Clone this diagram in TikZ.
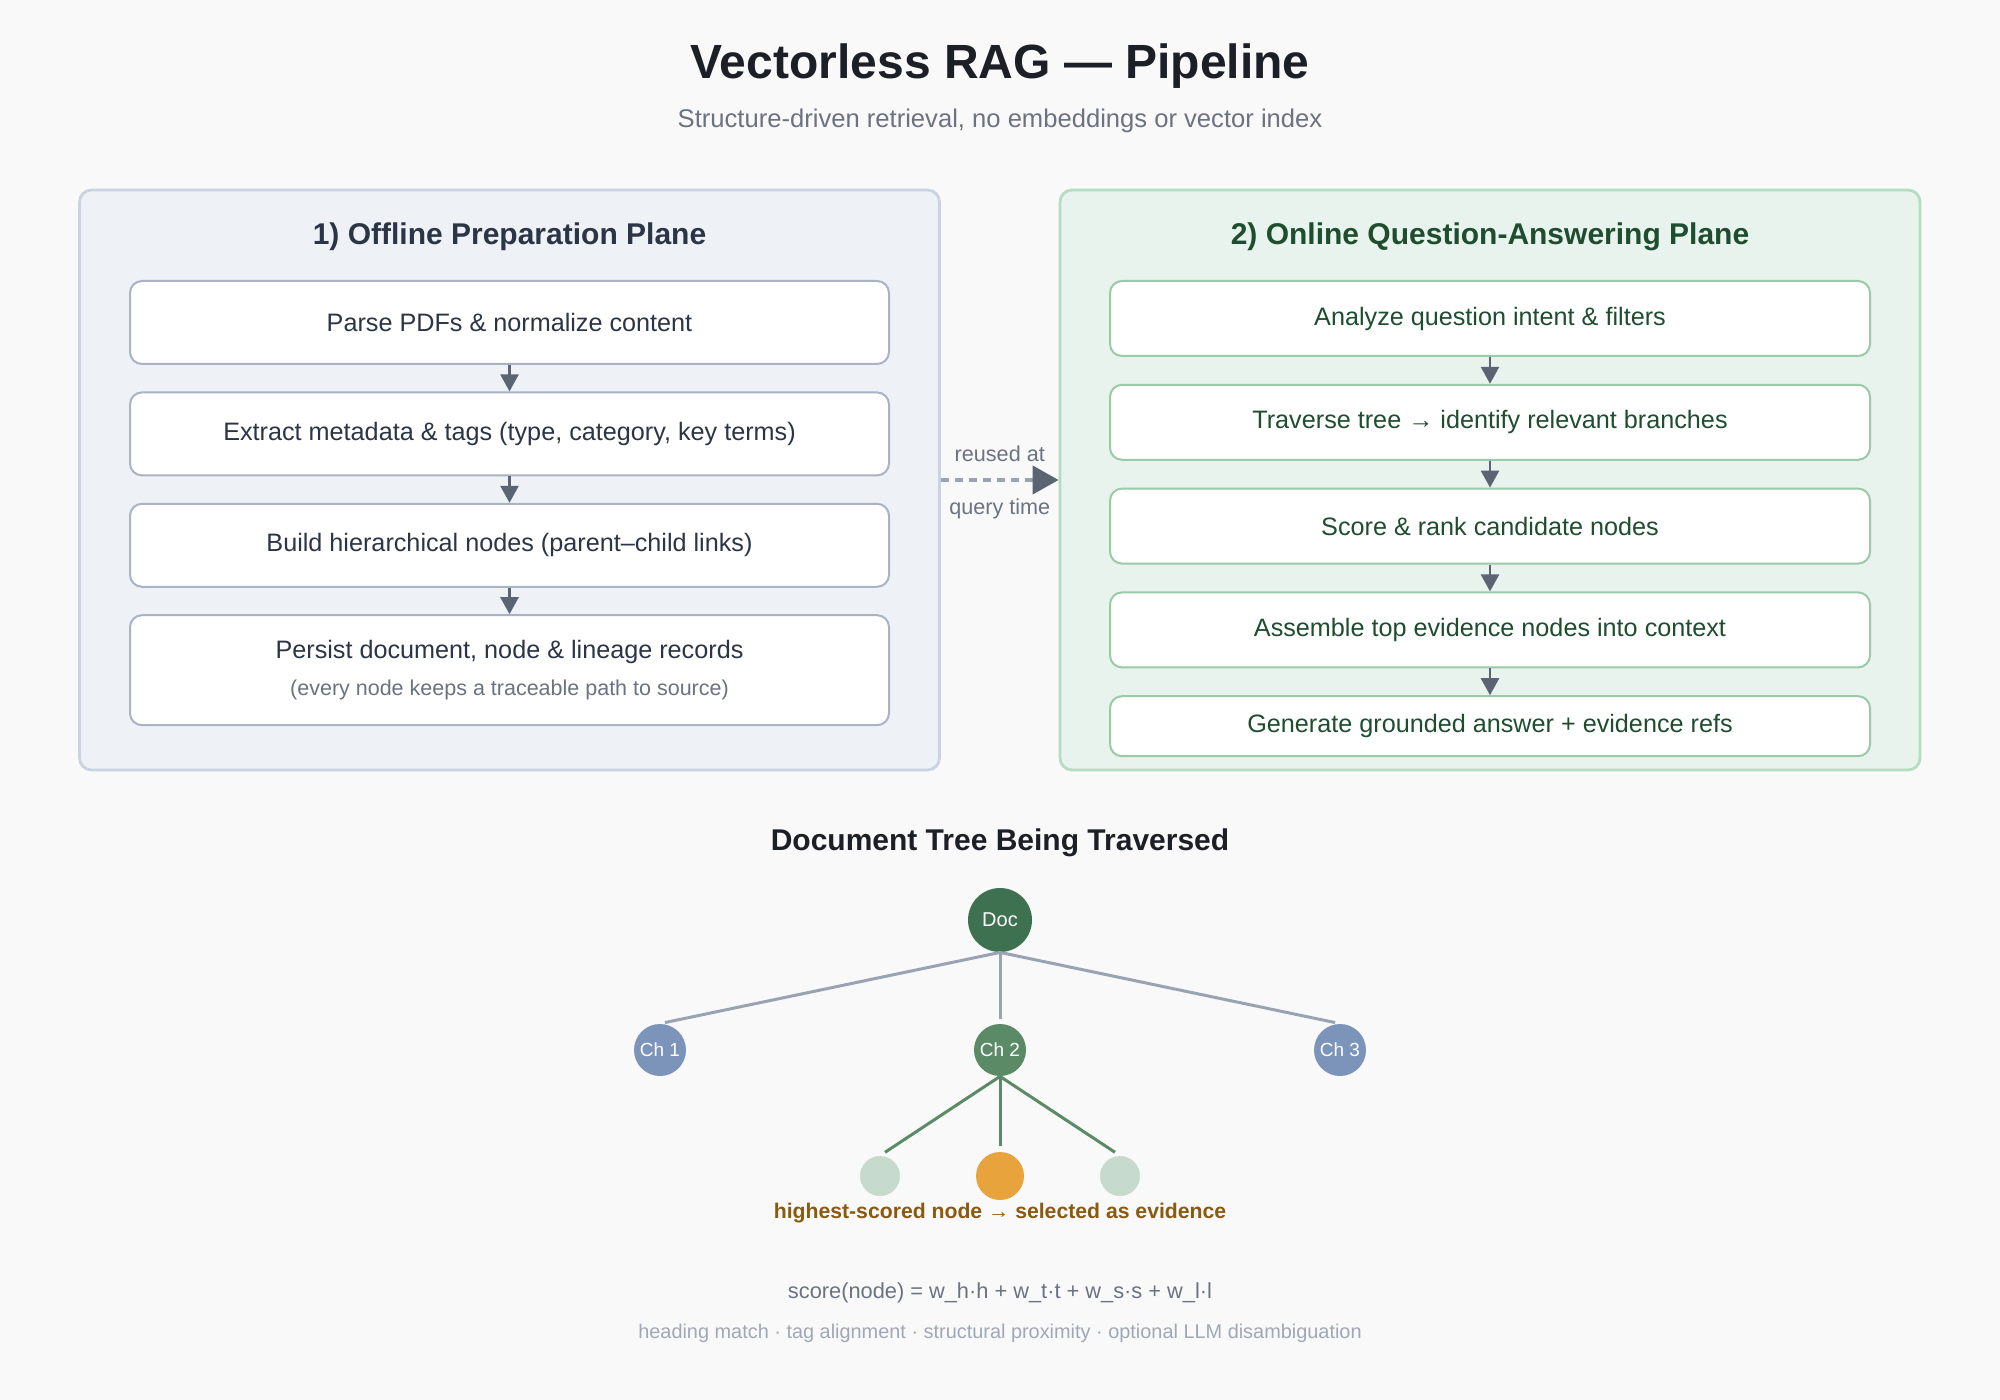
\documentclass[tikz,border=0pt]{standalone}
\usepackage{fontspec}
\setmainfont{Liberation Sans}
\usepackage{tikz}
\newcommand{\fuente}[1]{\fontsize{#1}{1.2\dimexpr#1pt\relax}\selectfont}
\usetikzlibrary{positioning, arrows.meta}
\definecolor{fondo}{HTML}{F9F9FA}
\definecolor{titulo}{HTML}{1C1F26}
\definecolor{gristexto}{HTML}{6B7280}
\definecolor{grisclaro}{HTML}{A0A7B5}
\definecolor{azulfondo}{HTML}{EEF2F7}
\definecolor{azulborde}{HTML}{C9D3E2}
\definecolor{azulcaja}{HTML}{A9B3C4}
\definecolor{azultexto}{HTML}{2B3545}
\definecolor{verdefondo}{HTML}{E9F3ED}
\definecolor{verdeborde}{HTML}{B7DCC4}
\definecolor{verdecaja}{HTML}{9ACAA8}
\definecolor{verdetexto}{HTML}{1E4D2F}
\definecolor{flechagris}{HTML}{5B6472}
\definecolor{lineagris}{HTML}{9AA3B2}
\definecolor{docverde}{HTML}{3D7150}
\definecolor{chverde}{HTML}{5A8A66}
\definecolor{chazul}{HTML}{7D94BA}
\definecolor{hojaverde}{HTML}{C6DACE}
\definecolor{naranja}{HTML}{E8A33D}
\definecolor{marron}{HTML}{8A5A0F}
\tikzstyle{plano} = [rounded corners=6pt, line width=1.4pt, minimum width=430pt, minimum height=290pt, inner sep=0pt]
\tikzstyle{plantitle} = [font=\bfseries\fuente{15}]
\tikzstyle{paso} = [draw, fill=white, rounded corners=6pt, line width=1pt, align=center, font=\fuente{12.6}]
\tikzstyle{flecha} = [draw=flechagris, line width=1.3pt, -{Triangle[length=8.5pt,width=9pt]}]
\tikzstyle{reuso} = [draw=lineagris, line width=2pt, dash pattern=on 4pt off 3pt, -{Triangle[length=13pt,width=14pt,color=flechagris]}]
\tikzstyle{rama} = [draw=lineagris, line width=1.5pt, shorten >=2.5pt]
\tikzstyle{ramaverde} = [draw=chverde, line width=1.5pt, shorten >=3pt]
\tikzstyle{circulo} = [circle, text=white, inner sep=0pt]

\begin{document}
\begin{tikzpicture}[x=0.5pt, y=-0.5pt]
	\useasboundingbox (0,0) rectangle (2000,1400);
	\fill[fondo] (0,0) rectangle (2000,1400);

	\node[text=titulo, font=\bfseries\fuente{24}] (title) at (1000,66) {Vectorless RAG — Pipeline};
	\node[text=gristexto, font=\fuente{12.8}] (subtitle) at (1000,121) {Structure-driven retrieval, no embeddings or vector index};

	\node[plano, draw=azulborde, fill=azulfondo] (offline) at (509.5,480) {};
	\node[plano, draw=verdeborde, fill=verdefondo] (online) at (1490,480) {};
	\node[plantitle, text=azultexto] (offtitle) at (509.5,237) {1) Offline Preparation Plane};
	\node[plantitle, text=verdetexto] (ontitle) at (1490,237) {2) Online Question-Answering Plane};

	\node[paso, draw=azulcaja, text=azultexto, minimum width=379.5pt, minimum height=41.5pt] (parse) at (509.5,322.5) {Parse PDFs \& normalize content};
	\node[paso, draw=azulcaja, text=azultexto, minimum width=379.5pt, minimum height=41.5pt, below=13.2pt of parse] (extract) {Extract metadata \& tags (type, category, key terms)};
	\node[paso, draw=azulcaja, text=azultexto, minimum width=379.5pt, minimum height=41.5pt, below=13.2pt of extract] (build) {Build hierarchical nodes (parent–child links)};
	\node[paso, draw=azulcaja, text=azultexto, minimum width=379.5pt, minimum height=55pt, below=13.2pt of build] (persist) {Persist document, node \& lineage records\\[3pt]{\color{gristexto}\fuente{10.75}(every node keeps a traceable path to source)}};

	\draw[flecha] (parse) -- (extract);
	\draw[flecha] (extract) -- (build);
	\draw[flecha] (build) -- (persist);

	\node[paso, draw=verdecaja, text=verdetexto, minimum width=380pt, minimum height=37.5pt] (analyze) at (1490,318.5) {Analyze question intent \& filters};
	\node[paso, draw=verdecaja, text=verdetexto, minimum width=380pt, minimum height=37.5pt, below=13.4pt of analyze] (traverse) {Traverse tree → identify relevant branches};
	\node[paso, draw=verdecaja, text=verdetexto, minimum width=380pt, minimum height=37.5pt, below=13.4pt of traverse] (score) {Score \& rank candidate nodes};
	\node[paso, draw=verdecaja, text=verdetexto, minimum width=380pt, minimum height=37.5pt, below=13.4pt of score] (assemble) {Assemble top evidence nodes into context};
	\node[paso, draw=verdecaja, text=verdetexto, minimum width=380pt, minimum height=30pt, below=13.4pt of assemble] (generate) {Generate grounded answer + evidence refs};

	\draw[flecha] (analyze) -- (traverse);
	\draw[flecha] (traverse) -- (score);
	\draw[flecha] (score) -- (assemble);
	\draw[flecha] (assemble) -- (generate);

	\draw[reuso] (offline) -- (online)
		node[midway, above=5pt, text=gristexto, font=\fuente{10.8}] {reused at}
		node[midway, below=5pt, text=gristexto, font=\fuente{10.8}] {query time};

	\node[text=titulo, font=\bfseries\fuente{15}] (treetitle) at (1000,843) {Document Tree Being Traversed};
	\node[circulo, fill=docverde, minimum size=32pt, font=\fuente{10}] (doc) at (1000,920) {Doc};
	\node[circulo, fill=chazul, minimum size=26pt, font=\fuente{9.5}] (ch1) at (660,1050) {Ch 1};
	\node[circulo, fill=chverde, minimum size=26pt, font=\fuente{9.5}] (ch2) at (1000,1050) {Ch 2};
	\node[circulo, fill=chazul, minimum size=26pt, font=\fuente{9.5}] (ch3) at (1340,1050) {Ch 3};
	\node[circulo, fill=hojaverde, minimum size=20pt] (leaf1) at (880,1176) {};
	\node[circulo, fill=naranja, minimum size=24pt] (leaf2) at (1000,1176) {};
	\node[circulo, fill=hojaverde, minimum size=20pt] (leaf3) at (1120,1176) {};

	\draw[rama] (doc.south) -- (ch1.north);
	\draw[rama] (doc.south) -- (ch2.north);
	\draw[rama] (doc.south) -- (ch3.north);
	\draw[ramaverde] (ch2.south) -- (leaf1.north);
	\draw[ramaverde] (ch2.south) -- (leaf2.north);
	\draw[ramaverde] (ch2.south) -- (leaf3.north);

	\node[text=marron, font=\bfseries\fuente{10.6}] (evidence) at (1000,1213) {highest-scored node → selected as evidence};
	\node[text=gristexto, font=\fuente{10.9}] (formula) at (1000,1293) {score(node) = w\_h·h + w\_t·t + w\_s·s + w\_l·l};
	\node[text=grisclaro, font=\fuente{9.95}] (factors) at (1000,1333) {heading match · tag alignment · structural proximity · optional LLM disambiguation};
\end{tikzpicture}
\end{document}
